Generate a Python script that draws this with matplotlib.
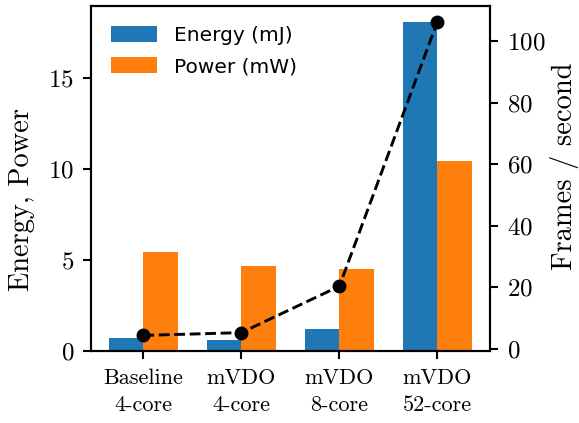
import matplotlib
matplotlib.use("Agg")
import matplotlib.pyplot as plt
import numpy as np

plt.rcParams["font.family"] = "cmr10"
plt.rcParams["mathtext.fontset"] = "cm"
plt.rcParams["axes.unicode_minus"] = False
plt.rcParams["axes.formatter.use_mathtext"] = True

categories = ["Baseline\n4-core", "mVDO\n4-core", "mVDO\n8-core", "mVDO\n52-core"]
energy_mj = [0.73, 0.60, 1.21, 18.08]
power_mw = [5.44, 4.67, 4.50, 10.44]
frames_per_sec = [4.3, 5.2, 20.3, 106.4]

fig = plt.figure(figsize=(5.79, 4.23), dpi=100)
ax = fig.add_axes([0.157, 0.170, 0.689, 0.816])
ax2 = ax.twinx()

x = np.arange(len(categories))
w = 0.35
b1 = ax.bar(x - w / 2, energy_mj, w, color="#1f77b4", label="Energy (mJ)")
b2 = ax.bar(x + w / 2, power_mw, w, color="#ff7f0e", label="Power (mW)")

ax2.plot(x, frames_per_sec, linestyle="--", color="black", linewidth=2.1,
         marker="o", markersize=9)

ax.set_xticks(x)
ax.set_xticklabels(categories, fontsize=16, linespacing=1.5)
ax.set_yticks([0, 5, 10, 15])
ax2.set_yticks([0, 20, 40, 60, 80, 100])
ax.tick_params(axis="y", labelsize=18, length=6, width=1.5, pad=6)
ax.tick_params(axis="x", length=6, width=1.5, pad=6.5)
ax2.tick_params(axis="y", labelsize=18, length=6, width=1.5, pad=6.5)

ax.set_ylabel("Energy, Power", fontsize=20.5)
ax2.set_ylabel("Frames / second", fontsize=20.5)
ax.yaxis.set_label_coords(-0.14, 0.44)
ax2.yaxis.set_label_coords(1.152, 0.536)

for a in (ax, ax2):
    for s in a.spines.values():
        s.set_linewidth(1.5)

ax.legend(handles=[b1, b2], loc="upper left", frameon=False,
          prop={"family": "DejaVu Sans", "size": 14.5},
          handlelength=2.3, handleheight=0.8, labelspacing=0.6,
          borderaxespad=0.6, handletextpad=0.85)

fig.savefig("out.png", dpi=100)
